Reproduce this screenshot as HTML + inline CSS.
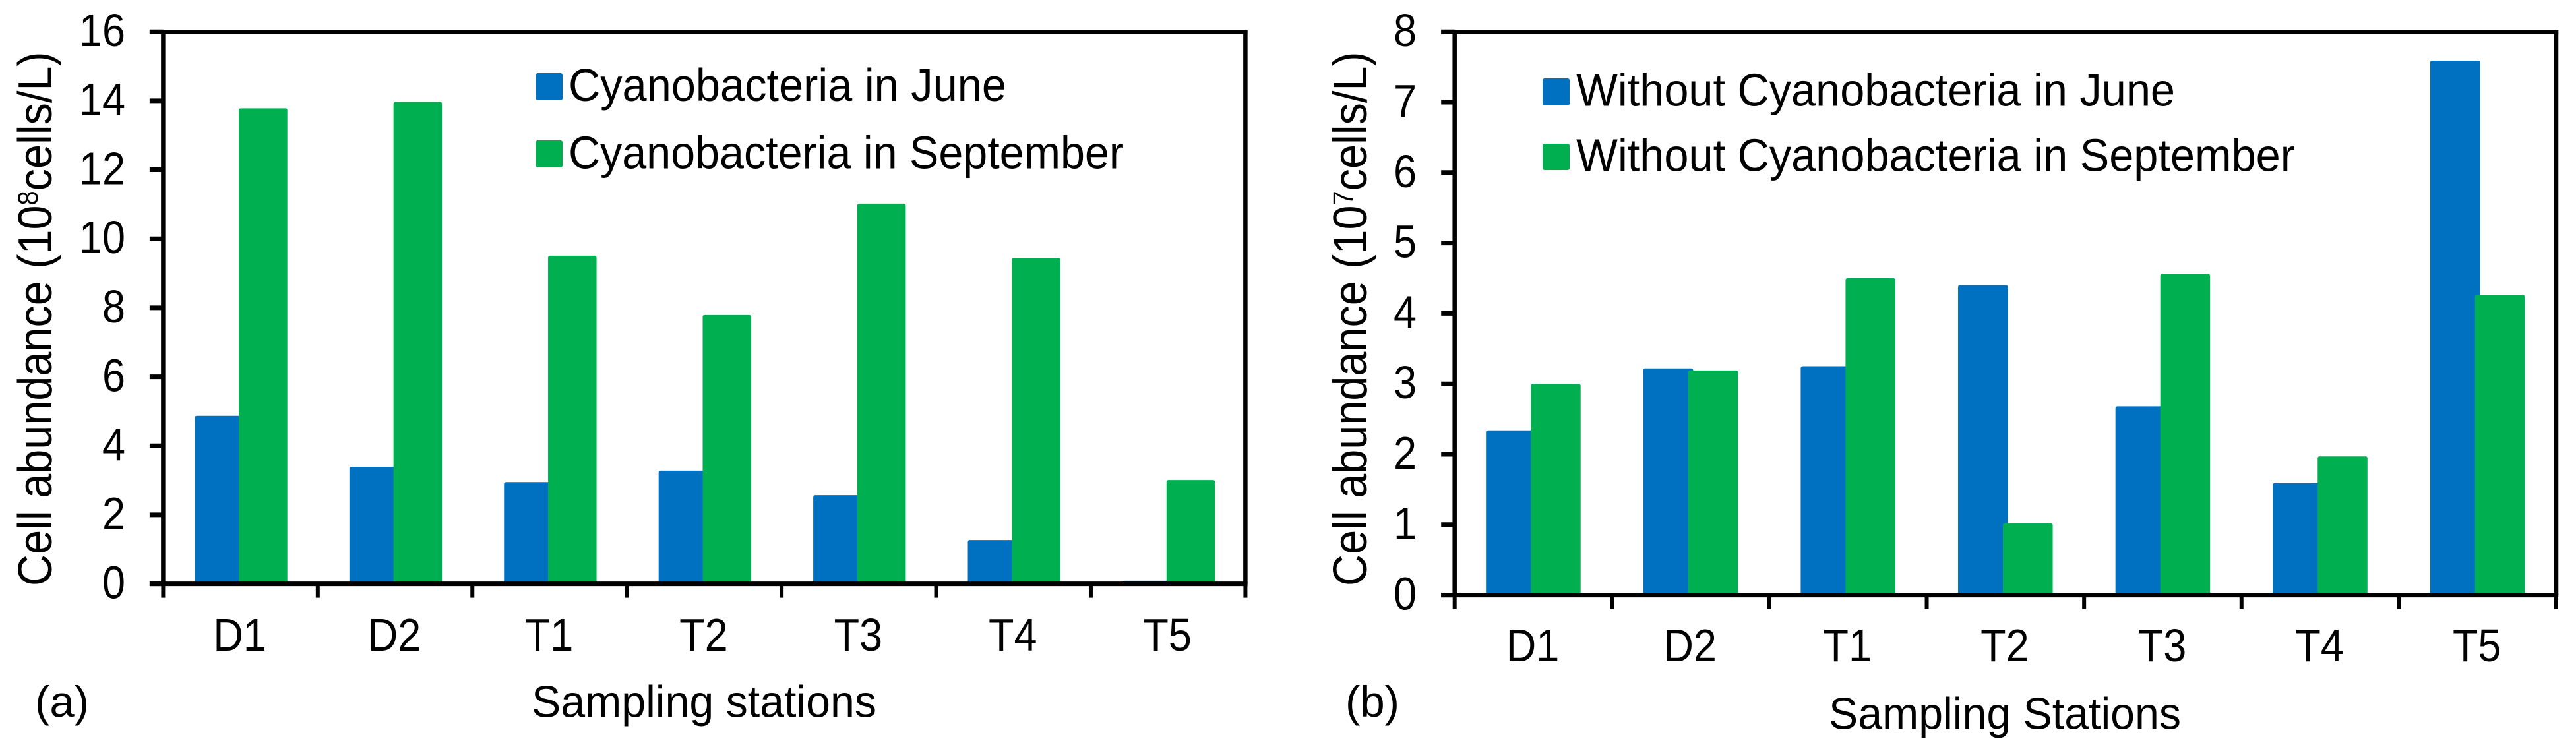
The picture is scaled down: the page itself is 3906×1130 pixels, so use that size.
<!DOCTYPE html>
<html lang="en">
<head>
<meta charset="utf-8">
<title>Cell abundance by sampling station</title>
<style>
html,body{margin:0;padding:0;background:#fff;}
svg{display:block;}
text{font-family:"Liberation Sans",Arial,sans-serif;fill:#000;}
</style>
</head>
<body>
<svg id="figure" xmlns="http://www.w3.org/2000/svg" width="3906" height="1130" viewBox="0 0 3906 1130">
  <rect x="0" y="0" width="3906" height="1130" fill="#ffffff"/>
  <g id="chartA"></g>
  <g id="chartB"></g>

  <text font-size="72" transform="translate(78,889) rotate(-90) scale(0.925,1)">Cell abundance (10<tspan font-size="43" dy="-21">8</tspan><tspan dy="21">cells/L)</tspan></text>
  <text font-size="68" x="806" y="1087.5" textLength="523" lengthAdjust="spacingAndGlyphs">Sampling stations</text>
  <text font-size="66" x="53" y="1087" textLength="82" lengthAdjust="spacingAndGlyphs">(a)</text>
  <rect x="812.5" y="111" width="40.5" height="41" rx="3" fill="#0070C0"/>
  <text font-size="70" x="862" y="153" textLength="664" lengthAdjust="spacingAndGlyphs">Cyanobacteria in June</text>
  <rect x="812.5" y="213" width="40.5" height="41" rx="3" fill="#00B050"/>
  <text font-size="70" x="862" y="255.5" textLength="842" lengthAdjust="spacingAndGlyphs">Cyanobacteria in September</text>

  <text font-size="72" transform="translate(2072,889) rotate(-90) scale(0.925,1)">Cell abundance (10<tspan font-size="43" dy="-21">7</tspan><tspan dy="21">cells/L)</tspan></text>
  <text font-size="68" x="2773" y="1105.4" textLength="534" lengthAdjust="spacingAndGlyphs">Sampling Stations</text>
  <text font-size="66" x="2040" y="1087" textLength="82" lengthAdjust="spacingAndGlyphs">(b)</text>
  <rect x="2339" y="119" width="41" height="41" rx="3" fill="#0070C0"/>
  <text font-size="70" x="2390" y="160.7" textLength="908" lengthAdjust="spacingAndGlyphs">Without Cyanobacteria in June</text>
  <rect x="2339" y="218" width="41" height="40" rx="3" fill="#00B050"/>
  <text font-size="70" x="2390" y="259.5" textLength="1090" lengthAdjust="spacingAndGlyphs">Without Cyanobacteria in September</text>
</svg>
<script>
const stations = ['D1', 'D2', 'T1', 'T2', 'T3', 'T4', 'T5'];

const juneA = [4.87, 3.39, 2.95, 3.28, 2.57, 1.27, 0.09];
const septemberA = [13.78, 13.97, 9.51, 7.79, 11.02, 9.44, 3.01];
const yTicksA = [0, 2, 4, 6, 8, 10, 12, 14, 16];

const juneB = [2.34, 3.22, 3.25, 4.40, 2.68, 1.59, 7.59];
const septemberB = [3.00, 3.19, 4.50, 1.02, 4.56, 1.97, 4.26];
const yTicksB = [0, 1, 2, 3, 4, 5, 6, 7, 8];

const SVG_NS = 'http://www.w3.org/2000/svg';
const BLUE = '#0070C0';
const GREEN = '#00B050';

function shape(parent, tag, attrs) {
  const el = document.createElementNS(SVG_NS, tag);
  for (const k in attrs) el.setAttribute(k, attrs[k]);
  parent.appendChild(el);
  return el;
}

function line(parent, x1, y1, x2, y2, width) {
  return shape(parent, 'line', { x1, y1, x2, y2, stroke: '#000', 'stroke-width': width });
}

function topRoundedBar(x, top, w, bottom) {
  const r = Math.min(3, Math.max(0, bottom - top));
  return 'M' + x + ' ' + bottom + 'V' + (top + r) + 'Q' + x + ' ' + top + ' ' + (x + r) + ' ' + top +
    'H' + (x + w - r) + 'Q' + (x + w) + ' ' + top + ' ' + (x + w) + ' ' + (top + r) + 'V' + bottom + 'Z';
}

function drawChart(group, cfg, june, september, yTicks, suffix) {
  const yMax = yTicks[yTicks.length - 1];
  const yScale = v => cfg.y0 - (v / yMax) * (cfg.y0 - cfg.yTop);
  const band = (cfg.xRight - cfg.xLeft) / stations.length;
  const xScale = i => cfg.xLeft + band * i;

  // bars: blue first, green overlapping it
  june.forEach((v, i) => {
    const x = xScale(i) + cfg.barOffset;
    const el = shape(group, 'path', { d: topRoundedBar(x, yScale(v), cfg.barWidth, cfg.y0), fill: BLUE });
    
    
  });
  september.forEach((v, i) => {
    const x = xScale(i) + cfg.barOffset + cfg.barPitch;
    const el = shape(group, 'path', { d: topRoundedBar(x, yScale(v), cfg.barWidth, cfg.y0), fill: GREEN });
    
    
  });

  // frame
  const leftAxis = line(group, cfg.xLeft, cfg.yTop, cfg.xLeft, cfg.y0, 6.5);
  
  
  const rightAxis = line(group, cfg.xRight, cfg.yTop - 3, cfg.xRight, cfg.y0, 6.5);
  
  
  const topAxis = line(group, cfg.xLeft - 20.5, cfg.yTop, cfg.xRight + 3.2, cfg.yTop, 6.5);
  
  
  const xAxis = line(group, cfg.xLeft - 20.5, cfg.y0, cfg.xRight + 3.2, cfg.y0, 7);
  
  

  // y ticks and labels
  yTicks.forEach(v => {
    const y = yScale(v);
    const tick = line(group, cfg.xLeft - 20.5, y, cfg.xLeft, y, 7);
    
    
    const label = shape(group, 'text', {
      'font-size': 70, 'text-anchor': 'end',
      transform: 'translate(' + cfg.yLabelX + ',' + (y + 22) + ') scale(0.9,1)'
    });
    label.textContent = String(v);
    
    
  });

  // x ticks
  for (let i = 0; i <= stations.length; i++) {
    const x = xScale(i);
    const tick = line(group, x, cfg.y0, x, cfg.y0 + 21, 6);
    
    
  }

  // x labels
  stations.forEach((s, i) => {
    const label = shape(group, 'text', {
      'font-size': 70, 'text-anchor': 'middle',
      transform: 'translate(' + (xScale(i) + band / 2 - 1) + ',' + cfg.xLabelY + ') scale(0.9,1)'
    });
    label.textContent = s;
    
    
  });
}

drawChart(document.getElementById('chartA'), {
  xLeft: 247.4, xRight: 1888.4, yTop: 48.2, y0: 885.6,
  barOffset: 48, barWidth: 73.5, barPitch: 66.8, yLabelX: 190, xLabelY: 987
}, juneA, septemberA, yTicksA, 'a');

drawChart(document.getElementById('chartB'), {
  xLeft: 2205.7, xRight: 3876, yTop: 48.2, y0: 902.6,
  barOffset: 47.5, barWidth: 75.5, barPitch: 68, yLabelX: 2148, xLabelY: 1003
}, juneB, septemberB, yTicksB, 'b');
</script>
</body>
</html>
